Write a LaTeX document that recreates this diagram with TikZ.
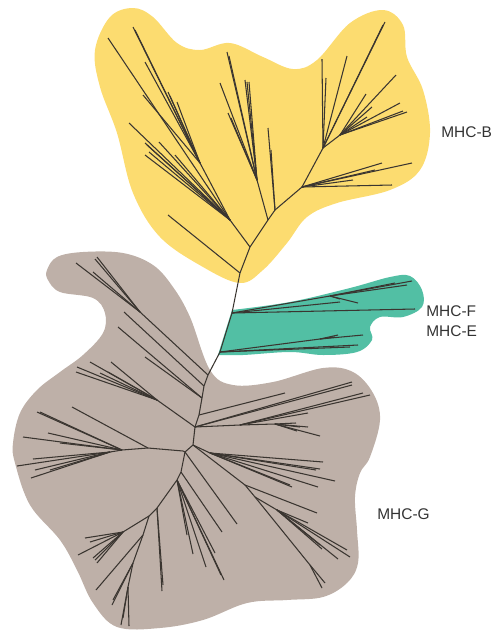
\documentclass[tikz,border=0pt]{standalone}
\usepackage{fontspec}
\setmainfont{Liberation Sans}
\definecolor{mhcb}{HTML}{FCDC70}
\definecolor{mhcef}{HTML}{52BFA4}
\definecolor{mhcg}{HTML}{BEB0A8}
\definecolor{twig}{HTML}{3A3530}
\begin{document}
\begin{tikzpicture}[x=0.02cm,y=-0.02cm]
    \tikzset{
        stem/.style={draw=twig, line width=0.6pt},
        leaf/.style={draw=twig, line width=0.6pt},
        clade/.style={font=\fontsize{8.8}{10}\selectfont, text=black!80, inner sep=0pt, anchor=west}
    }
    \useasboundingbox (0,0) rectangle (494,630);

    % coloured areas
    \fill[mhcb] plot[smooth cycle, tension=0.6] coordinates {
        (95,50) (110,17) (133,8) (153,17) (177,43) (200,50) (230,43) (263,57)
        (293,69) (317,60) (350,23) (383,10) (403,25) (407,57) (423,90) (430,133)
        (420,170) (390,190) (337,203) (307,217) (287,243) (263,270) (240,283)
        (203,267) (160,237) (133,193) (117,133) (100,87)};
    \fill[mhcg] plot[smooth cycle, tension=0.6] coordinates {
        (47,270) (57,257) (83,252) (123,253) (153,265) (173,287) (190,317) (210,370)
        (233,385) (273,382) (323,368) (353,372) (373,393) (380,420) (370,457)
        (360,473) (355,497) (357,530) (358,563) (347,583) (323,597) (287,600)
        (247,603) (203,620) (160,628) (117,627) (93,603) (77,570) (60,540) (30,505)
        (15,463) (13,443) (20,413) (37,390) (60,372) (83,355) (103,333) (105,313)
        (93,298) (60,292) (48,280)};
    \fill[mhcef] plot[smooth, tension=0.6] coordinates {
        (232,310) (290,302) (350,288) (390,277) (410,276) (422,290) (422,307)
        (403,317) (380,317) (370,327) (372,340) (357,352) (323,355) (290,352)
        (243,355) (218,355)} -- cycle;

    % main branches
    \coordinate (b1) at (268,220);
    \coordinate (b2) at (275,210);
    \coordinate (b3) at (302,187);
    \coordinate (b4) at (323,148);
    \coordinate (b5) at (250,247);
    \coordinate (b6) at (240,273);
    \coordinate (ef1) at (232,313);
    \coordinate (ef2) at (220,352);
    \coordinate (g1) at (208,375);
    \coordinate (g2) at (204,386);
    \coordinate (g3) at (202,398);
    \coordinate (g4) at (199,415);
    \coordinate (g5) at (195,427);
    \coordinate (g6) at (193,445);
    \coordinate (g7) at (185,452);
    \coordinate (g8) at (181,472);
    \coordinate (g9) at (177,480);
    \coordinate (g10) at (157,508);
    \coordinate (g11) at (149,516);
    \coordinate (g12) at (143,535);
    \coordinate (g13) at (133,563);
    \coordinate (g14) at (128,587);
    \coordinate (l1) at (183,451);
    \coordinate (l2) at (148,448);
    \coordinate (l3) at (122,450);
    \coordinate (l4) at (110,452);
    \draw[stem] (b4) -- (b3) -- (b2) -- (b1) -- (b5) -- (b6) -- (ef1) -- (ef2) -- (g1) -- (g2) -- (g3)
        -- (g4) -- (g5) -- (g6) -- (g7) -- (g8) -- (g9) -- (g10) -- (g11) -- (g12) -- (g13) -- (g14);
    \draw[stem] (g7) -- (l1) -- (l2) -- (l3) -- (l4);

    % side forks
    \coordinate (f1) at (230,220);
    \coordinate (f2) at (200,163);
    \coordinate (f3) at (257,180);
    \coordinate (f4) at (140,312);
    \coordinate (f5) at (157,400);
    \coordinate (f6) at (240,425);
    \coordinate (f7) at (210,453);
    \coordinate (f8) at (245,485);
    \coordinate (f9) at (255,497);
    \coordinate (f10) at (123,532);
    \coordinate (f11) at (275,424);
    \coordinate (f12) at (277,510);
    \coordinate (f13) at (310,565);
    \coordinate (b7) at (340,135);
    \coordinate (ef3) at (330,296);
    \coordinate (ef4) at (320,339);
    \draw[stem] (b5) -- (f1) -- (f2);
    \draw[stem] (b1) -- (f3);
    \draw[stem] (g1) -- (f4);
    \draw[stem] (g5) -- (f5);
    \draw[stem] (g5) -- (f6) -- (f11);
    \draw[stem] (g6) -- (f7);
    \draw[stem] (g6) -- (f8) -- (f9) -- (f13);
    \draw[stem] (f9) -- (f12);
    \draw[stem] (g11) -- (f10);
    \draw[stem] (b4) -- (b7);
    \draw[stem] (ef1) -- (ef3);
    \draw[stem] (ef2) -- (ef4);

    % tips
    \foreach \f/\x/\y in {%
        f1/108/38, f2/133/27, f2/145/62, f2/143/95, f2/168/92, f2/177/102, f2/135/30, f2/170/96,
        f1/129/123, f1/145/143, f1/159/142, f1/145/155, f1/175/155, f1/147/145, f1/149/152,
        b6/168/215, b2/268/128, b2/271/150,
        f3/220/83, f3/227/52, f3/228/113, f3/245/80, f3/249/82, f3/229/56, f3/231/118, f3/247/82,
        b3/412/163, b3/382/163, b3/392/185, b3/353/180, b3/375/170,
        b4/385/22, b4/347/56, b4/322/59, b4/326/78, b7/396/75, b7/366/94, b7/400/103,
        b7/407/112, b7/372/107, b7/367/117, b4/383/25, b7/403/111,
        ef3/412/281, ef3/407/285, ef3/395/283, ef3/340/299, ef3/358/303, ef1/415/309, ef1/340/302,
        ef4/363/335, ef4/338/335, ef2/358/345, ef4/335/337, ef2/350/347,
        f4/95/259, f4/93/272, f4/76/263, f4/97/257,
        g2/124/312, g3/118/327, g3/145/357,
        f5/111/362, f5/90/362, f5/76/372, f5/77/367, f5/100/373, f5/108/372,
        l2/72/407, l3/37/412, l3/48/433, l3/23/437, l3/60/443, l3/40/412,
        l4/17/466, l4/33/459, l4/35/470, l4/31/478, l4/50/470,
        g4/285/393, g5/352/382, g5/352/385,
        f6/370/395, f6/363/393, f6/308/413, f11/308/427, f11/296/423, f11/320/436, f11/297/431, f11/300/427,
        f7/323/462, f7/320/469, f7/335/481, f7/318/487, f7/292/487, f7/290/485, f7/316/470,
        f8/317/513,
        f12/347/550, f12/350/557, f12/338/559, f12/322/549, f12/308/523, f13/325/583, f13/322/588, f12/320/545,
        g7/237/524, g8/222/532,
        g9/193/554, g9/206/567, g9/215/553, g9/224/580, g9/187/535, g9/221/575,
        g10/162/591, g10/163/585,
        f10/85/538, f10/78/555, f10/93/558, f10/97/563, f10/90/542, f10/95/560,
        g12/96/590, g13/112/605, g13/113/600,
        g14/121/625, g14/129/626, g14/123/618%
    }{
        \draw[leaf] (\f) -- (\x,\y);
    }

    \node[clade] (mhcB) at (441,132) {MHC-B};
    \node[clade] (mhcF) at (426,311) {MHC-F};
    \node[clade] (mhcE) at (426,331) {MHC-E};
    \node[clade] (mhcG) at (377,514) {MHC-G};
\end{tikzpicture}
\end{document}
